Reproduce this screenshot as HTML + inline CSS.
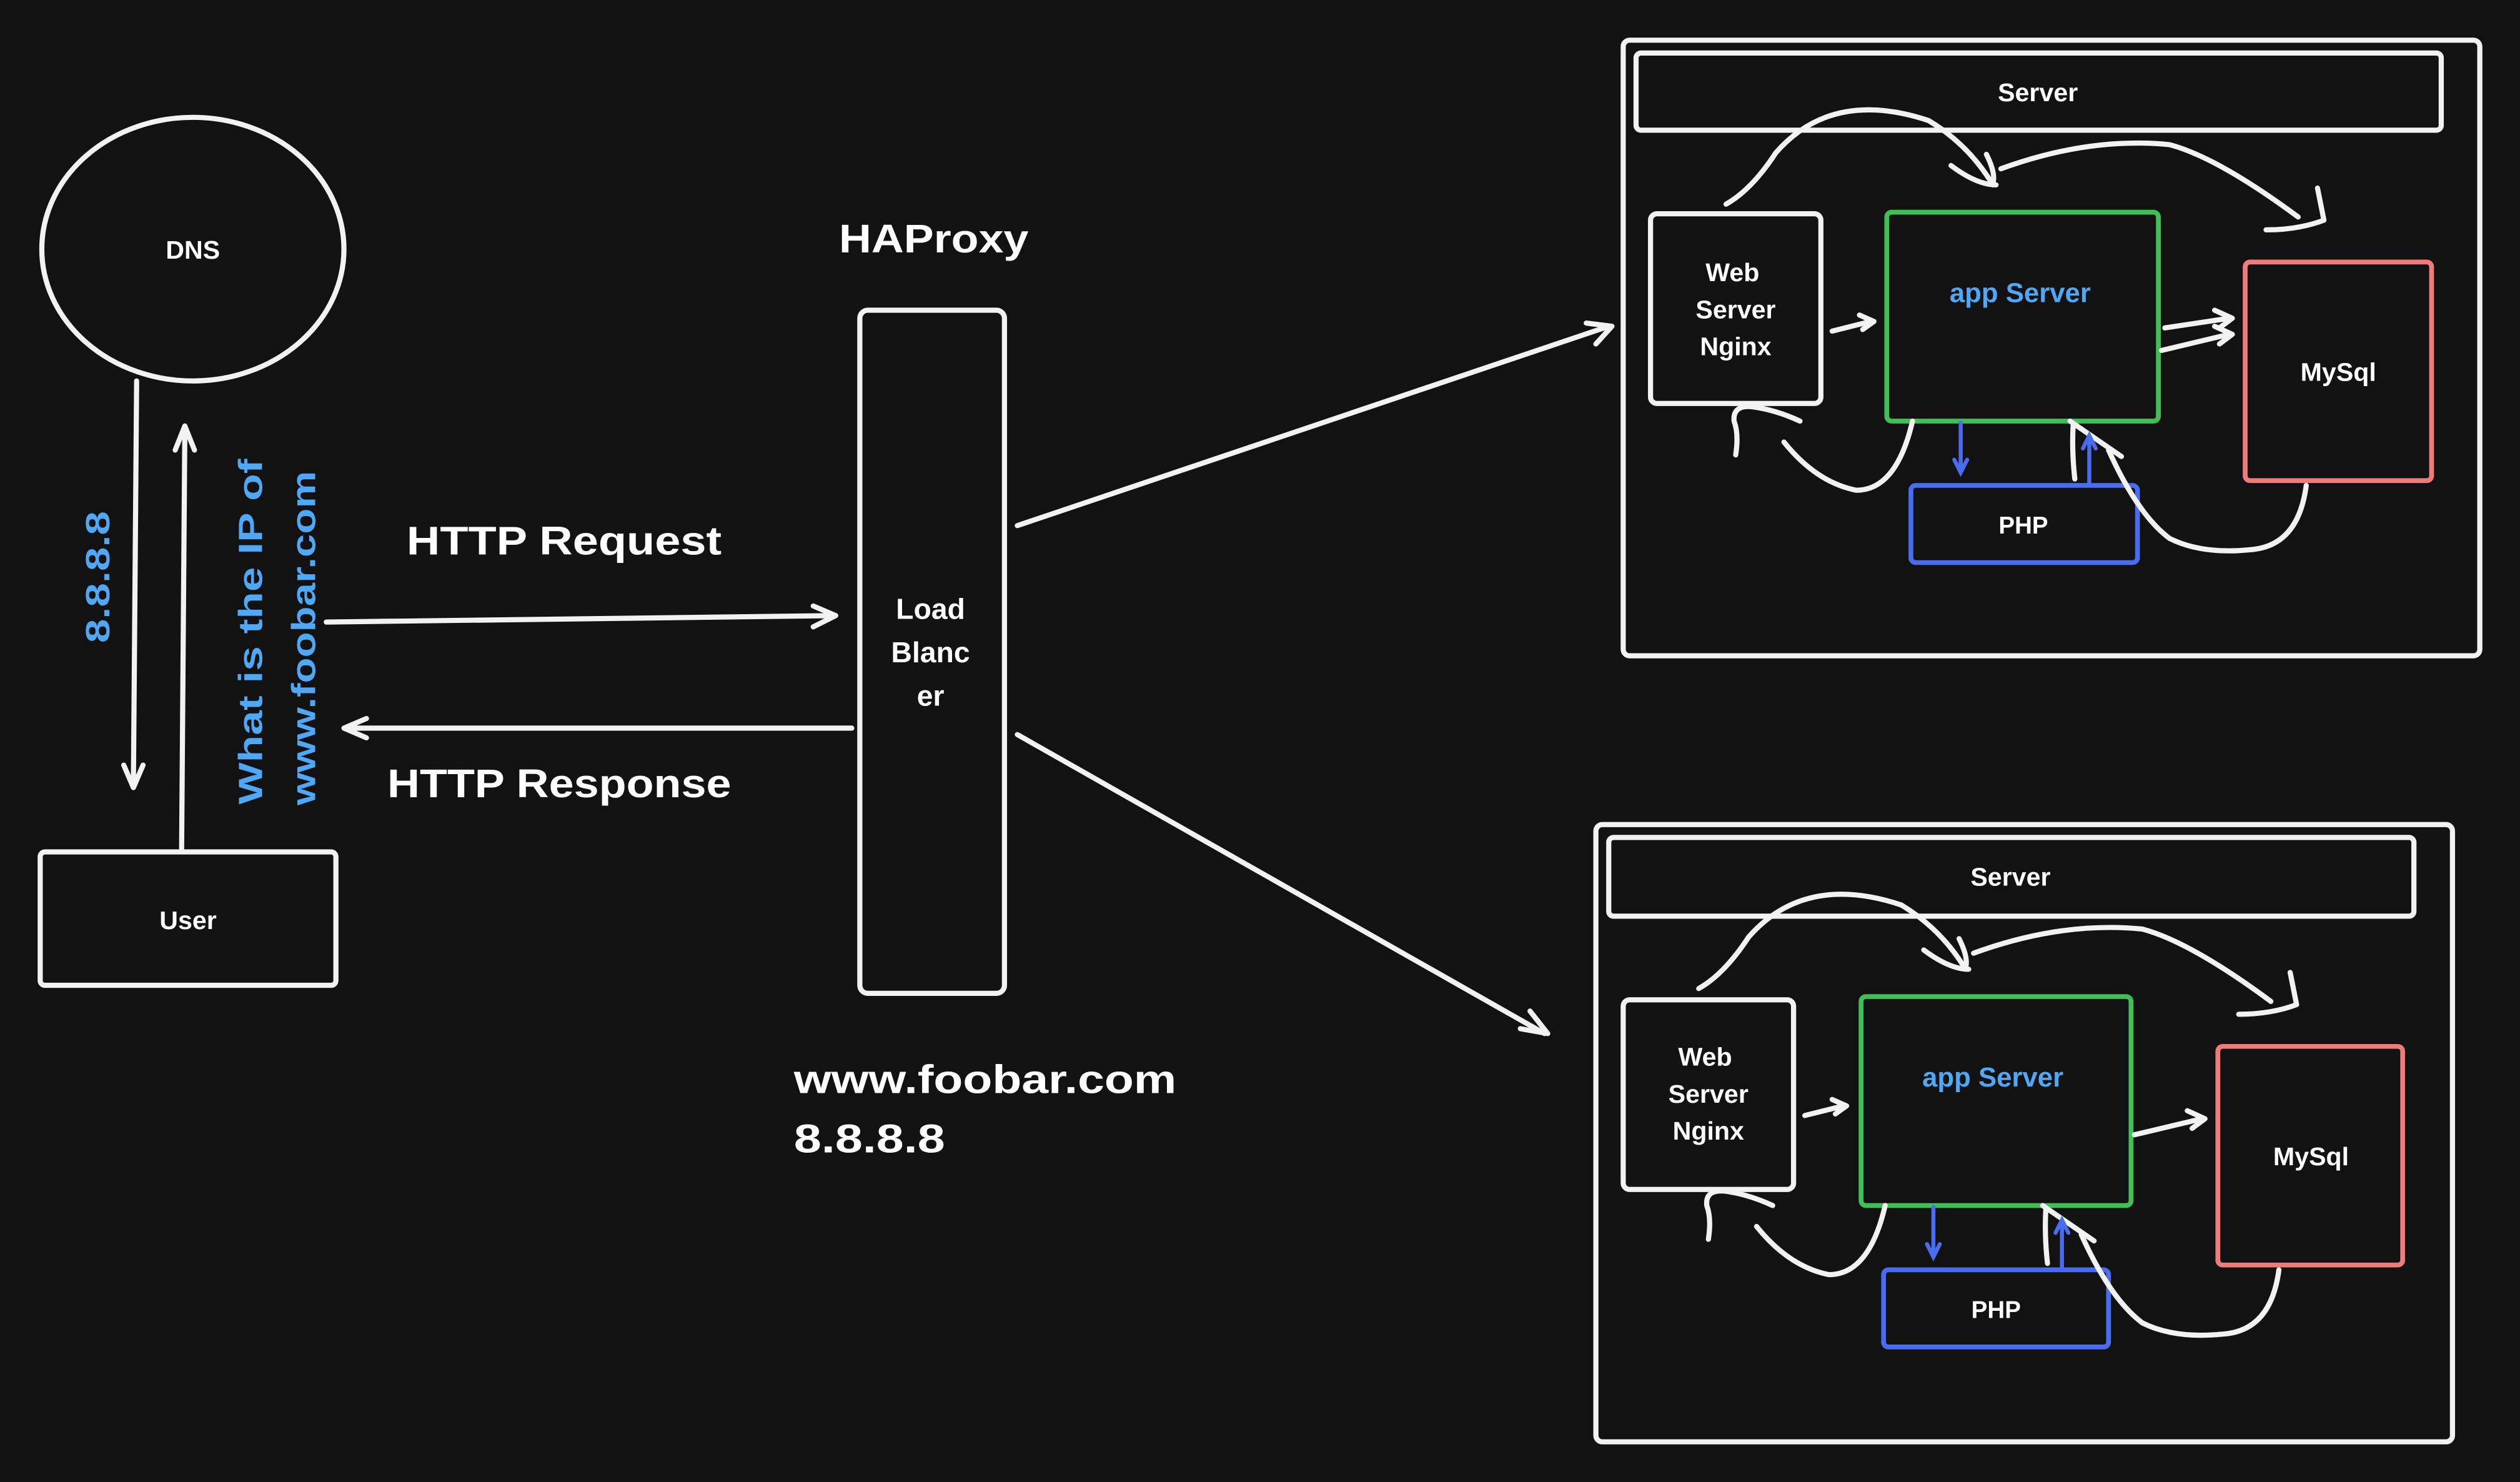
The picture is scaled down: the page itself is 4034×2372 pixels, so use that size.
<!DOCTYPE html>
<html><head><meta charset="utf-8"><style>
html,body{margin:0;padding:0;background:#121212;}
svg{display:block}
text{font-family:"Liberation Sans","DejaVu Sans",sans-serif;font-weight:bold;fill:#fff;text-anchor:middle}
.w{fill:none;stroke:#f2f2f2;stroke-width:3.2;stroke-linecap:round;stroke-linejoin:round}
.b{fill:none;stroke:#4a6cf0;stroke-width:2.5;stroke-linecap:round}
.bl{fill:#4fa8f5}
</style></head><body>
<svg width="4034" height="2372" viewBox="0 0 1568 922" xmlns="http://www.w3.org/2000/svg">
<rect width="1568" height="922" fill="#121212"/>
<!-- DNS -->
<ellipse cx="120" cy="155" rx="94" ry="82" class="w"/>
<text x="120" y="161" font-size="16">DNS</text>
<path class="w" d="M85 237 L83 488 M77 476 L83 490 L89 476"/>
<path class="w" d="M113 528 L115 267 M109 280 L115 265 L121 280"/>
<text class="bl" font-size="21" textLength="82" lengthAdjust="spacingAndGlyphs" transform="translate(68,359) rotate(-90)">8.8.8.8</text>
<text class="bl" font-size="21" textLength="215" lengthAdjust="spacingAndGlyphs" transform="translate(163,393) rotate(-90)">What is the IP of</text>
<text class="bl" font-size="21" textLength="208" lengthAdjust="spacingAndGlyphs" transform="translate(196,397) rotate(-90)">www.foobar.com</text>
<rect x="25" y="530" width="184" height="83" rx="3" class="w"/>
<text x="117" y="578" font-size="16">User</text>
<!-- HTTP -->
<text x="351" y="345" font-size="25" textLength="196" lengthAdjust="spacingAndGlyphs">HTTP Request</text>
<path class="w" d="M203 387 L518 383 M506 377 L520 383 L506 390"/>
<path class="w" d="M530 453 L216 453 M228 447 L214 453 L228 459"/>
<text x="348" y="496" font-size="25" textLength="214" lengthAdjust="spacingAndGlyphs">HTTP Response</text>
<text x="581" y="157" font-size="25" textLength="118" lengthAdjust="spacingAndGlyphs">HAProxy</text>
<rect x="535" y="193" width="90" height="425" rx="5" class="w"/>
<text x="579" y="385" font-size="18">Load</text>
<text x="579" y="412" font-size="18">Blanc</text>
<text x="579" y="439" font-size="18">er</text>
<text x="494" y="680" font-size="25" textLength="238" lengthAdjust="spacingAndGlyphs" style="text-anchor:start">www.foobar.com</text>
<text x="494" y="717" font-size="25" textLength="94" lengthAdjust="spacingAndGlyphs" style="text-anchor:start">8.8.8.8</text>
<path class="w" d="M633 327 L1001 203 M987 201 L1003 203 L993 214"/>
<path class="w" d="M633 457 L961 643 M952 629 L963 643 L946 640"/>
<!-- Server 1 -->
<g>
<rect x="1010" y="25" width="533" height="383" rx="4" class="w"/>
<rect x="1018" y="33" width="501" height="48" rx="3" class="w"/>
<text x="1268" y="63" font-size="16">Server</text>
<rect x="1027" y="133" width="106" height="118" rx="4" class="w"/>
<text x="1078" y="175" font-size="16">Web</text>
<text x="1080" y="198" font-size="16">Server</text>
<text x="1080" y="221" font-size="16">Nginx</text>
<rect x="1174" y="132" width="169" height="130" rx="3" fill="none" stroke="#3fbf55" stroke-width="3"/>
<text x="1257" y="188" font-size="17" class="bl">app Server</text>
<rect x="1397" y="163" width="116" height="136" rx="3" fill="none" stroke="#f07b7b" stroke-width="3"/>
<text x="1455" y="237" font-size="16">MySql</text>
<rect x="1189" y="302" width="141" height="48" rx="3" fill="none" stroke="#4a6cf0" stroke-width="3"/>
<text x="1259" y="332" font-size="15">PHP</text>
<path class="w" d="M1074 127 Q1090 118 1105 95 Q1140 55 1200 75 Q1225 90 1240 115 M1214 103 Q1230 115 1242 115 M1236 96 Q1242 108 1240 114"/>
<path class="w" d="M1245 105 Q1300 85 1350 90 Q1380 98 1430 135 M1442 117 L1446 137 Q1430 143 1410 143"/>
<path class="w" d="M1140 206 L1164 200 M1157 196 L1166 200 L1159 205"/>
<path class="w" d="M1347 204 L1387 198 M1378 193 L1389 198 L1381 204 M1345 218 L1387 208 M1378 203 L1389 208 L1381 214"/>
<path class="w" d="M1080 283 Q1082 270 1079 262 Q1078 252 1090 253 Q1105 255 1120 262"/>
<path class="w" d="M1110 275 Q1130 300 1155 305 Q1180 305 1190 262"/>
<path class="w" d="M1435 302 Q1430 340 1400 342 Q1370 345 1350 335 Q1330 320 1312 280 M1288 262 L1320 284"/>
<path class="w" d="M1291 298 Q1289 280 1290 264"/>
<path class="b" d="M1220 263 L1220 293 M1216 286 L1220 294 L1224 286"/>
<path class="b" d="M1300 302 L1300 272 M1296 279 L1300 271 L1304 279"/>
</g>
<!-- Server 2 -->
<g transform="translate(-17,488)">
<rect x="1010" y="25" width="533" height="384" rx="4" class="w"/>
<rect x="1018" y="33" width="501" height="49" rx="3" class="w"/>
<text x="1268" y="63" font-size="16">Server</text>
<rect x="1027" y="134" width="106" height="118" rx="4" class="w"/>
<text x="1078" y="175" font-size="16">Web</text>
<text x="1080" y="198" font-size="16">Server</text>
<text x="1080" y="221" font-size="16">Nginx</text>
<rect x="1175" y="132" width="168" height="130" rx="3" fill="none" stroke="#3fbf55" stroke-width="3"/>
<text x="1257" y="188" font-size="17" class="bl">app Server</text>
<rect x="1397" y="163" width="115" height="136" rx="3" fill="none" stroke="#f07b7b" stroke-width="3"/>
<text x="1455" y="237" font-size="16">MySql</text>
<rect x="1189" y="302" width="140" height="48" rx="3" fill="none" stroke="#4a6cf0" stroke-width="3"/>
<text x="1259" y="332" font-size="15">PHP</text>
<path class="w" d="M1074 127 Q1090 118 1105 95 Q1140 55 1200 75 Q1225 90 1240 115 M1214 103 Q1230 115 1242 115 M1236 96 Q1242 108 1240 114"/>
<path class="w" d="M1245 105 Q1300 85 1350 90 Q1380 98 1430 135 M1442 117 L1446 137 Q1430 143 1410 143"/>
<path class="w" d="M1140 206 L1164 200 M1157 196 L1166 200 L1159 205"/>
<path class="w" d="M1345 218 L1387 208 M1378 203 L1389 208 L1381 214"/>
<path class="w" d="M1080 283 Q1082 270 1079 262 Q1078 252 1090 253 Q1105 255 1120 262"/>
<path class="w" d="M1110 275 Q1130 300 1155 305 Q1180 305 1190 262"/>
<path class="w" d="M1435 302 Q1430 340 1400 342 Q1370 345 1350 335 Q1330 320 1312 280 M1288 262 L1320 284"/>
<path class="w" d="M1291 298 Q1289 280 1290 264"/>
<path class="b" d="M1220 263 L1220 293 M1216 286 L1220 294 L1224 286"/>
<path class="b" d="M1300 302 L1300 272 M1296 279 L1300 271 L1304 279"/>
</g>
</svg>
</body></html>
